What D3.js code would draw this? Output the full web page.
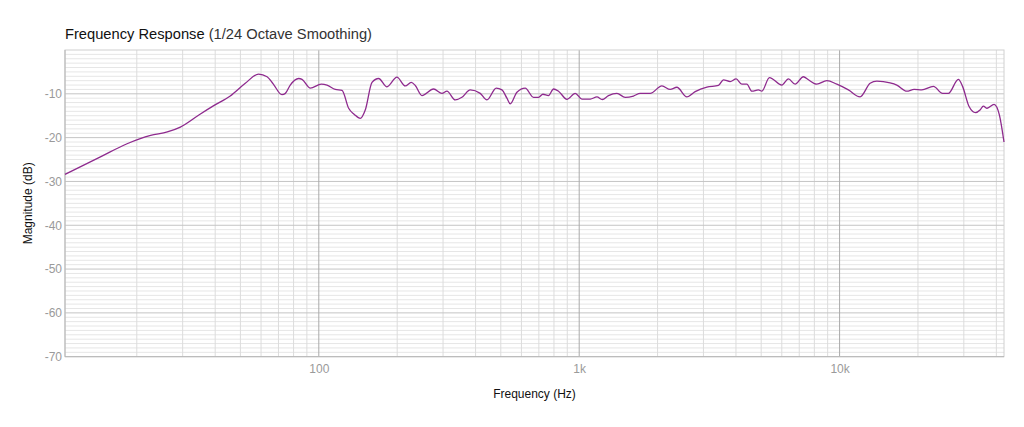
<!DOCTYPE html>
<html>
<head>
<meta charset="utf-8">
<script src="https://cdn.jsdelivr.net/npm/d3@7"></script>
<style>
  body { margin: 0; background: #fff; }
  svg { display: block; font-family: "Liberation Sans", Arial, sans-serif; }
</style>
</head>
<body>
<div id="chart"></div>
<script>
// chart size
var svgWidth = 1024;
var svgHeight = 427;

var margin = { top: 50, right: 20, bottom: 70, left: 65 };
var width = 1004 - margin.left;
var height = 356.7 - margin.top;

// measured response, frequency in Hz and magnitude in dB
var freqHz = [10.6, 14.5, 18.35, 22.6, 26.2, 29.4, 35.1, 39.5, 45.7, 52.2,
  58.7, 63.3, 66.9, 72.2, 74.4, 77.7, 83.7, 86.2, 92.8, 102.2,
  107.5, 115.7, 122.8, 130.2, 136.9, 144.3, 150.8, 160.1, 169.7, 182.7,
  199.6, 214.8, 226.5, 234.7, 249, 275.9, 297.2, 310.6, 334.2, 354.5,
  381.6, 416.9, 442.3, 480.1, 505, 527.8, 543.5, 576.6, 620.4, 667.6,
  698, 725.6, 762.4, 796.9, 833, 897.3, 965.4, 1024, 1103, 1170,
  1226, 1296, 1396, 1502, 1616, 1715, 1874, 2078, 2236, 2372,
  2591, 2789, 3093, 3426, 3581, 3800, 4006, 4213, 4404, 4604,
  4880, 5029, 5378, 6001, 6362, 6750, 7262, 7593, 8177, 8933,
  9759, 10812, 11990, 13100, 13900, 15630, 16590, 18120, 19330, 20690,
  22920, 24860, 26170, 28590, 29670, 31430, 33290, 34630, 35660, 36850,
  39200, 41080, 42800];
var magDb = [-28.4, -24.4, -21.4, -19.5, -18.7, -17.6, -14.6, -12.7, -10.5, -7.6,
  -5.5, -6.1, -7.8, -10.2, -9.9, -8.0, -6.5, -6.7, -8.7, -7.8,
  -8.0, -9.0, -9.2, -13.3, -14.7, -15.6, -13.7, -7.4, -6.5, -8.4,
  -6.2, -8.2, -7.4, -8.1, -10.4, -8.9, -9.9, -9.4, -11.4, -10.8,
  -9.1, -9.9, -11.4, -8.7, -9.1, -11.0, -12.3, -9.65, -8.7, -10.8,
  -10.8, -10.1, -10.4, -8.9, -9.4, -11.25, -9.9, -11.2, -11.2, -10.7,
  -11.3, -10.4, -9.9, -10.8, -10.5, -9.9, -9.9, -8.2, -9.0, -8.5,
  -10.7, -9.5, -8.5, -8.1, -6.8, -7.2, -6.6, -7.8, -7.8, -9.4,
  -9.1, -9.4, -6.3, -8.0, -6.6, -7.8, -6.1, -6.8, -7.8, -7.0,
  -7.8, -9.1, -10.7, -7.6, -7.1, -7.5, -8.0, -9.4, -9.0, -9.1,
  -8.3, -9.9, -9.9, -6.7, -8.3, -12.9, -14.3, -13.7, -12.8, -13.3,
  -12.4, -14.8, -21.0];

// axis ticks
var xTickValues = [100, 1000, 10000];
var xTickLabels = ["100", "1k", "10k"];
var yTickValues = [-10, -20, -30, -40, -50, -60, -70];

var data = freqHz.map(function(f, i) { return { f: f, db: magDb[i] }; });

var svg = d3.select("#chart")
  .append("svg")
  .attr("width", svgWidth)
  .attr("height", svgHeight);

var chartGroup = svg.append("g")
  .attr("transform", `translate(${margin.left}, ${margin.top})`);

var xScale = d3.scaleLog()
  .domain([10.6, 42800])
  .range([0, width]);

var yScale = d3.scaleLinear()
  .domain([-70, 0])
  .range([height, 0]);

// minor grid: every 1 dB and 2..9 of each decade
var minorY = d3.range(-69, 0, 1).filter(function(v) { return v % 10 !== 0; });
var minorX = [];
[10, 100, 1000, 10000].forEach(function(d) {
  for (var k = 2; k <= 9; k++) {
    if (d * k > 10.6 && d * k < 42800) minorX.push(d * k);
  }
});

chartGroup.append("g").selectAll("line")
  .data(minorY).enter().append("line")
  .attr("x1", 0).attr("x2", width)
  .attr("y1", d => yScale(d)).attr("y2", d => yScale(d))
  .attr("stroke", "#e6e6e6").attr("stroke-width", 1);

chartGroup.append("g").selectAll("line")
  .data(minorX).enter().append("line")
  .attr("y1", 0).attr("y2", height)
  .attr("x1", d => xScale(d)).attr("x2", d => xScale(d))
  .attr("stroke", "#dcdcdc").attr("stroke-width", 1);

// major grid
chartGroup.append("g").selectAll("line")
  .data([-10, -20, -30, -40, -50, -60]).enter().append("line")
  .attr("x1", 0).attr("x2", width)
  .attr("y1", d => yScale(d)).attr("y2", d => yScale(d))
  .attr("stroke", "#c4c4c4").attr("stroke-width", 1);

chartGroup.append("g").selectAll("line")
  .data(xTickValues).enter().append("line")
  .attr("y1", 0).attr("y2", height)
  .attr("x1", d => xScale(d)).attr("x2", d => xScale(d))
  .attr("stroke", "#aaaaaa").attr("stroke-width", 1);

// frame
chartGroup.append("rect")
  .attr("width", width).attr("height", height)
  .attr("fill", "none").attr("stroke", "#d0d0d0");
chartGroup.append("line")
  .attr("x1", 0).attr("x2", 0).attr("y1", 0).attr("y2", height)
  .attr("stroke", "#b5b5b5");
chartGroup.append("line")
  .attr("x1", 0).attr("x2", width).attr("y1", height).attr("y2", height)
  .attr("stroke", "#b5b5b5");

// axes
var bottomAxis = d3.axisBottom(xScale)
  .tickValues(xTickValues)
  .tickFormat((d, i) => xTickLabels[i])
  .tickSize(0).tickPadding(8);
var leftAxis = d3.axisLeft(yScale)
  .tickValues(yTickValues)
  .tickFormat(d => String(d))
  .tickSize(0).tickPadding(3);

var xAxisG = chartGroup.append("g")
  .attr("transform", `translate(0, ${height})`)
  .call(bottomAxis);
var yAxisG = chartGroup.append("g").call(leftAxis);

[xAxisG, yAxisG].forEach(function(g) {
  g.select(".domain").remove();
  g.selectAll("text")
    .attr("fill", "#9a9a9a")
    .style("font-size", "12px")
    .style("font-family", "Liberation Sans, Arial, sans-serif");
});

// response line
var line = d3.line()
  .x(d => xScale(d.f))
  .y(d => yScale(d.db))
  .curve(d3.curveMonotoneX);

chartGroup.append("path")
  .datum(data)
  .attr("d", line)
  .attr("fill", "none")
  .attr("stroke", "#8e2a8e")
  .attr("stroke-width", 1.3);

// titles
var title = svg.append("text")
  .attr("x", 65).attr("y", 39)
  .style("font-size", "14.7px")
  .attr("fill", "#111");
title.append("tspan").text("Frequency Response ");
title.append("tspan").attr("fill", "#333").text("(1/24 Octave Smoothing)");

svg.append("text")
  .attr("x", margin.left + width / 2).attr("y", 398)
  .attr("text-anchor", "middle")
  .style("font-size", "12px")
  .attr("fill", "#111")
  .text("Frequency (Hz)");

svg.append("text")
  .attr("transform", `translate(32, ${margin.top + height / 2}) rotate(-90)`)
  .attr("text-anchor", "middle")
  .style("font-size", "12px")
  .attr("fill", "#111")
  .text("Magnitude (dB)");
</script>
</body>
</html>
